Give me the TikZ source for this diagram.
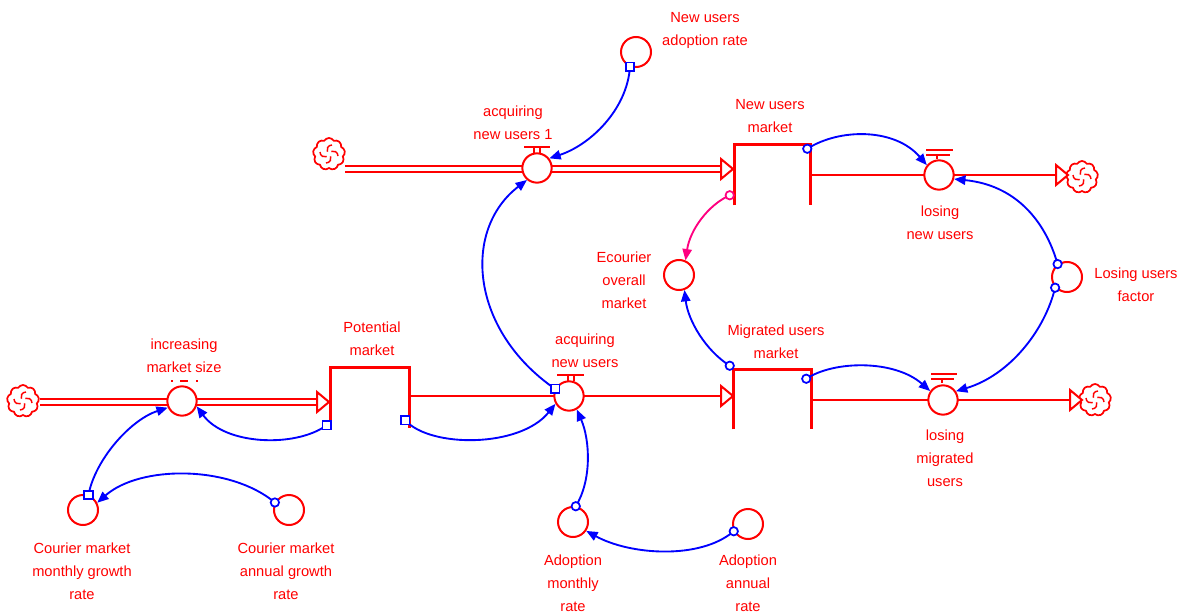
\documentclass[tikz,border=0pt]{standalone}
\usepackage{fontspec}
\setmainfont{Liberation Sans}
\usetikzlibrary{arrows.meta,shapes.symbols,calc}
\definecolor{vred}{RGB}{255,0,0}
\definecolor{vblue}{RGB}{0,0,255}
\definecolor{vpink}{RGB}{255,0,128}
\tikzset{
  lbl/.style={text=vred, font=\fontsize{11}{17.25}\selectfont, align=center, inner sep=0},
  aux/.style={circle, draw=vred, line width=1.5pt, minimum size=22.5pt, inner sep=0, fill=white},
  valve/.style={circle, draw=vred, line width=1.5pt, minimum size=22pt, inner sep=0, fill=white},
  stocknode/.style={rectangle, inner sep=0, draw=none},
  stockline/.style={draw=vred, line width=2.1pt, line join=miter},
  pipe/.style={draw=vred, line width=1.5pt, double=white, double distance=2.4pt},
  flowline/.style={draw=vred, line width=1.7pt},
  conn/.style={draw=vblue, line width=1.4pt, -{Triangle[length=8.5pt,width=7pt]}},
  tailc/.style={circle, draw=vblue, line width=1.3pt, minimum size=6.3pt, inner sep=0, fill=white},
  tails/.style={rectangle, draw=vblue, line width=1.3pt, minimum size=6.5pt, inner sep=0, fill=white},
  vcloud/.style={cloud, cloud puffs=9, cloud puff arc=120, aspect=1, draw=vred, line width=1.3pt,
    minimum width=24pt, minimum height=24pt, inner sep=0, fill=white},
  harrow/.pic={\draw[draw=vred, line width=1.5pt, fill=white, line join=miter] (0,0) -- (-12,10) -- (-12,-10) -- cycle;},
  curls/.pic={\draw[vred, line width=1.1pt] (-9,2) arc (180:290:5) (3,9) arc (90:200:5) (9,-2) arc (0:110:5) (-3,-9) arc (270:380:5);}
}
\begin{document}
\begin{tikzpicture}[x=0.75pt,y=0.75pt]
\useasboundingbox (0,0) rectangle (1183,-614);

% ---------- clouds
\node[vcloud] (c1) at (329,-154) {};
\node[vcloud] (c2) at (1082,-177) {};
\node[vcloud] (c3) at (23,-401) {};
\node[vcloud] (c4) at (1095,-400) {};
\pic at (c1.center) {curls};
\pic at (c2.center) {curls};
\pic at (c3.center) {curls};
\pic at (c4.center) {curls};

% ---------- stocks
\node[stocknode, minimum width=56.25pt, minimum height=45pt] (sN) at (772.5,-175) {};
\node[stocknode, minimum width=58.5pt, minimum height=45pt] (sP) at (370,-398) {};
\node[stocknode, minimum width=57.75pt, minimum height=44.25pt] (sM) at (772.5,-399.5) {};

% ---------- flow pipes
\coordinate (f1a) at (345,-169);
\coordinate (f1b) at (721,-169);
\coordinate (f1t) at (733,-169);
\coordinate (f2a) at (810,-175);
\coordinate (f2b) at (1056,-175);
\coordinate (f2t) at (1068,-175);
\coordinate (f3a) at (40,-402);
\coordinate (f3b) at (317,-402);
\coordinate (f3t) at (329,-402);
\coordinate (f4a) at (409,-396);
\coordinate (f4b) at (721,-396);
\coordinate (f4t) at (733,-396);
\coordinate (f5a) at (811,-400);
\coordinate (f5b) at (1070,-400);
\coordinate (f5t) at (1082,-400);

\draw[pipe] (f1a) -- (f1b);
\draw[pipe] (f3a) -- (f3b);
\draw[flowline] (f2a) -- (f2b);
\draw[flowline] (f4a) -- (f4b);
\draw[flowline] (f5a) -- (f5b);
\pic at (f1t) {harrow};
\pic at (f2t) {harrow};
\pic at (f3t) {harrow};
\pic at (f4t) {harrow};
\pic at (f5t) {harrow};

\draw[stockline] (sN.south west) |- (sN.north east) -- (sN.south east);
\draw[stockline] (sP.south west) |- (sP.north east) -- (sP.south east);
\draw[stockline] (sM.south west) |- (sM.north east) -- (sM.south east);

% ---------- valves
\node[valve] (vA1) at (537,-168) {};
\node[valve] (vL1) at (939,-175) {};
\node[valve] (vI) at (182,-401) {};
\node[valve] (vA) at (569,-396) {};
\node[valve] (vL2) at (943,-400) {};

\begin{scope}[shift={(vA1.center)}, vred, line width=1.5pt]
  \draw (-13,21) -- (13,21); \draw (-3,21) -- (-3,15); \draw (3,21) -- (3,15);
\end{scope}
\begin{scope}[shift={(vA.center)}, vred, line width=1.5pt]
  \draw (-12,21) -- (15,21); \draw (-1,21) -- (-1,15); \draw (5,21) -- (5,15);
\end{scope}
\begin{scope}[shift={(vL1.center)}, vred, line width=1.5pt]
  \draw (-13,25) -- (14,25); \draw (-13,20.5) -- (11,20.5); \draw (-2,20.5) -- (-2,16);
\end{scope}
\begin{scope}[shift={(vL2.center)}, vred, line width=1.5pt]
  \draw (-12,26) -- (14,26); \draw (-12,21.5) -- (11,21.5); \draw (-1,21.5) -- (-1,17);
\end{scope}
\begin{scope}[shift={(vI.center)}, vred, line width=1.5pt]
  \draw (-11,20) -- (-9,20); \draw (-2,20) -- (6,20); \draw (14,20) -- (16,20);
\end{scope}

% ---------- auxiliaries
\node[aux] (aNUAR) at (636,-52) {};
\node[aux] (aE) at (679,-275) {};
\node[aux] (aLUF) at (1067,-277) {};
\node[aux] (aCMM) at (83,-510) {};
\node[aux] (aCMA) at (289,-510) {};
\node[aux] (aAM) at (573,-522) {};
\node[aux] (aAA) at (748,-524) {};

% ---------- connector tails
\coordinate (t1) at (aNUAR.-112);
\coordinate (t2) at (vA.153);
\coordinate (t3) at ($(sN.north east)+(-3,-4)$);
\coordinate (t4) at (aLUF.126);
\coordinate (t5) at (aLUF.222);
\coordinate (t6) at ($(sM.north east)+(-5,-9)$);
\coordinate (t7) at ($(sM.north west)+(-4,4)$);
\coordinate (t8) at ($(sN.south west)+(-5,10)$);
\coordinate (t9) at ($(sP.south west)+(-4,3)$);
\coordinate (t10) at ($(sP.south east)+(-4,8)$);
\coordinate (t11) at (aAM.80);
\coordinate (t12) at (aAA.207);
\coordinate (t13) at (aCMA.152);
\coordinate (t14) at (aCMM.70);

% ---------- connectors
\draw[conn] (t1) .. controls (627,-110) and (590,-145) .. (vA1.38);
\draw[conn] (t2) .. controls (470,-330) and (462,-230) .. (vA1.-130);
\draw[conn] (t3) .. controls (840,-128) and (895,-128) .. (vL1.141);
\draw[conn] (t4) .. controls (1045,-220) and (1015,-185) .. (vL1.-15);
\draw[conn] (t5) .. controls (1045,-330) and (1010,-375) .. (vL2.34);
\draw[conn] (t6) .. controls (835,-360) and (895,-360) .. (vL2.145);
\draw[conn] (t7) .. controls (705,-350) and (688,-320) .. (aE.-70);
\draw[conn, draw=vpink] (t8) .. controls (708,-205) and (690,-230) .. (aE.66);
\draw[conn] (t9) .. controls (295,-448) and (225,-445) .. (vI.-20);
\draw[conn] (t10) .. controls (430,-448) and (520,-448) .. (vA.-150);
\draw[conn] (t11) .. controls (592,-480) and (590,-440) .. (vA.-60);
\draw[conn] (t12) .. controls (700,-560) and (630,-555) .. (aAM.-34);
\draw[conn] (t13) .. controls (230,-465) and (140,-465) .. (aCMM.27);
\draw[conn] (t14) .. controls (95,-460) and (130,-420) .. (vI.205);

% ---------- tail markers
\node[tails] at (t1) {};
\node[tails] at (t2) {};
\node[tailc] at (t3) {};
\node[tailc] at (t4) {};
\node[tailc] at (t5) {};
\node[tailc] at (t6) {};
\node[tailc] at (t7) {};
\node[tailc, draw=vpink] at (t8) {};
\node[tails] at (t9) {};
\node[tails] at (t10) {};
\node[tailc] at (t11) {};
\node[tailc] at (t12) {};
\node[tailc] at (t13) {};
\node[tails] at (t14) {};

% ---------- labels
\node[lbl] (lNUAR) at (705,-30) {New users\\adoption rate};
\node[lbl] (lA1) at (513,-123) {acquiring\\new users 1};
\node[lbl] (lN) at (770,-116) {New users\\market};
\node[lbl] (lE) at (624,-280) {Ecourier\\overall\\market};
\node[lbl] (lL1) at (940,-223) {losing\\new users};
\node[lbl] (lLUF) at (1136,-285) {Losing users\\factor};
\node[lbl] (lM) at (776,-342) {Migrated users\\market};
\node[lbl] (lA) at (585,-351) {acquiring\\new users};
\node[lbl] (lP) at (372,-339) {Potential\\market};
\node[lbl] (lI) at (184,-356) {increasing\\market size};
\node[lbl] (lL2) at (945,-458) {losing\\migrated\\users};
\node[lbl] (lCMM) at (82,-571) {Courier market\\monthly growth\\rate};
\node[lbl] (lCMA) at (286,-571) {Courier market\\annual growth\\rate};
\node[lbl] (lAM) at (573,-583) {Adoption\\monthly\\rate};
\node[lbl] (lAA) at (748,-583) {Adoption\\annual\\rate};
\end{tikzpicture}
\end{document}
